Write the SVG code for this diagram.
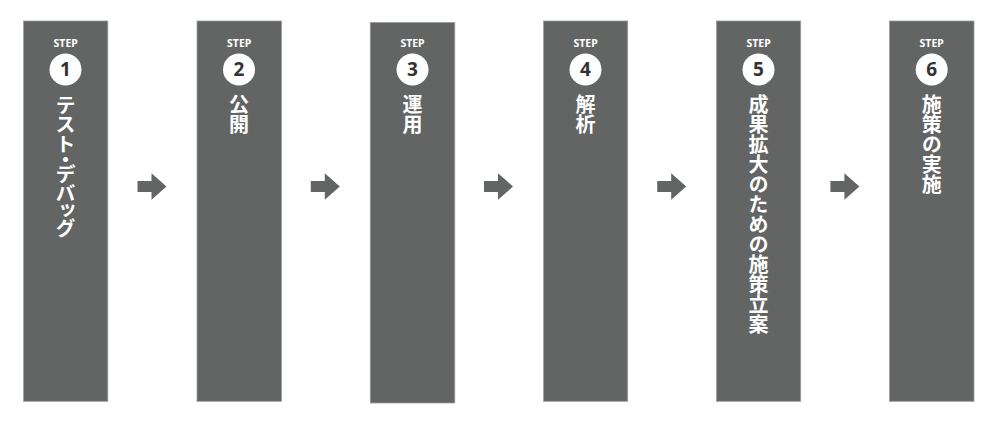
<svg xmlns="http://www.w3.org/2000/svg" width="998" height="424" viewBox="0 0 998 424">
<style>
.box{fill:#636564;stroke:#9c9c9c;stroke-width:0.8}
.step{font-family:"Noto Sans","Open Sans",sans-serif;font-weight:700;font-size:10.5px;fill:#ffffff;text-anchor:middle}
.circ{fill:#ffffff}
.num{font-family:"Noto Sans","Open Sans",sans-serif;font-weight:700;font-size:19px;fill:#333333;text-anchor:middle}
.lbl{font-family:"Noto Sans CJK JP",sans-serif;font-weight:700;font-size:20px;fill:#ffffff;writing-mode:vertical-rl}
.prop{font-feature-settings:"vpal"}
.arr{fill:#636564}
</style>
<defs>
<path id="arrow" d="M0,-5.5 H14 V-13.3 L29,0 L14,13.3 V5.5 H0 Z"/>
</defs>
<rect width="998" height="424" fill="#ffffff"/>
<g id="step1">
<rect class="box" x="23.5" y="21" width="84.3" height="380.3"/>
<text class="step" x="65.7" y="46.7">STEP</text>
<circle class="circ" cx="65.5" cy="69.5" r="16"/>
<text class="num" x="65.5" y="76">1</text>
<text class="lbl prop" x="65.5" y="96">テスト・デバッグ</text>
</g>
<g id="step2">
<rect class="box" x="197" y="21" width="84.5" height="380.3"/>
<text class="step" x="239.2" y="46.7">STEP</text>
<circle class="circ" cx="239" cy="69.5" r="16"/>
<text class="num" x="239" y="76">2</text>
<text class="lbl" x="239" y="94">公開</text>
</g>
<g id="step3">
<rect class="box" x="370.3" y="22.5" width="84.5" height="380.5"/>
<text class="step" x="412.5" y="46.7">STEP</text>
<circle class="circ" cx="412.5" cy="69.5" r="16"/>
<text class="num" x="412.5" y="76">3</text>
<text class="lbl" x="412.5" y="94">運用</text>
</g>
<g id="step4">
<rect class="box" x="543.5" y="21" width="84.2" height="380.3"/>
<text class="step" x="585.6" y="46.7">STEP</text>
<circle class="circ" cx="585.5" cy="69.5" r="16"/>
<text class="num" x="585.5" y="76">4</text>
<text class="lbl" x="585.5" y="94">解析</text>
</g>
<g id="step5">
<rect class="box" x="716.5" y="21" width="84.2" height="380.3"/>
<text class="step" x="758.6" y="46.7">STEP</text>
<circle class="circ" cx="758.5" cy="69.5" r="16"/>
<text class="num" x="758.5" y="76">5</text>
<text class="lbl" x="758.5" y="94.5">成果拡大のための施策立案</text>
</g>
<g id="step6">
<rect class="box" x="889.5" y="21" width="84.5" height="380.3"/>
<text class="step" x="931.7" y="46.7">STEP</text>
<circle class="circ" cx="931.7" cy="69.5" r="16"/>
<text class="num" x="931.7" y="76">6</text>
<text class="lbl" x="931.7" y="94.5">施策の実施</text>
</g>
<g id="connectors">
<use class="arr" href="#arrow" transform="translate(137.5,186.5)"/>
<use class="arr" href="#arrow" transform="translate(310.8,186.5)"/>
<use class="arr" href="#arrow" transform="translate(484,186.5)"/>
<use class="arr" href="#arrow" transform="translate(657.2,186.5)"/>
<use class="arr" href="#arrow" transform="translate(830.4,186.5)"/>
</g>
</svg>
